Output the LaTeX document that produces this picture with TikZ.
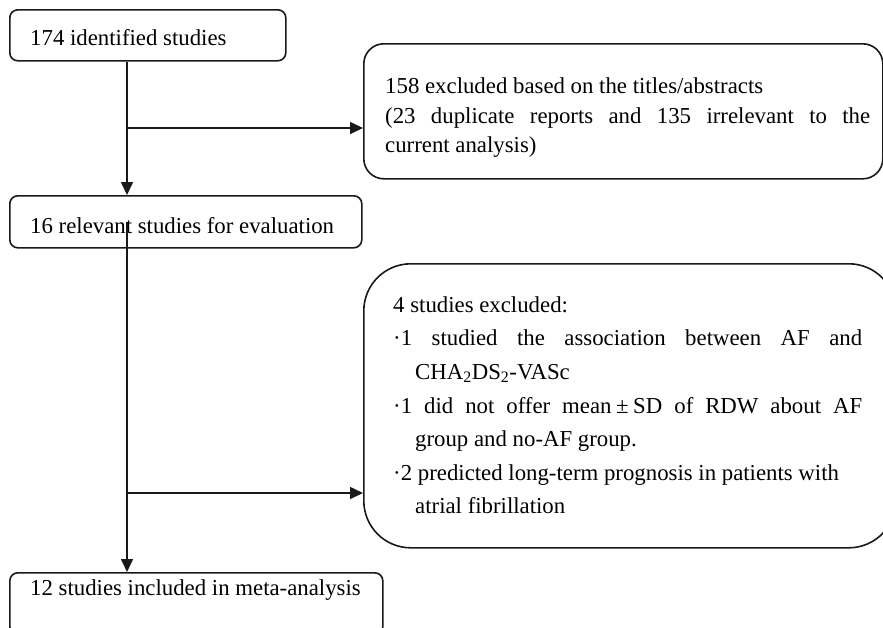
\documentclass[tikz,border=0pt]{standalone}
\usepackage{fontspec}
\setmainfont{Liberation Serif}
\usetikzlibrary{arrows.meta,calc}
\begin{document}
\begin{tikzpicture}[x=1pt,y=-1pt,
  box/.style={draw=black!90, line width=1.6pt, inner sep=0pt, anchor=north west},
  txt/.style={anchor=base west, inner sep=0pt, font=\fontsize{22.8}{27}\selectfont},
  arr/.style={draw=black!90, line width=1.6pt, -{Triangle[length=13pt,width=12pt]}}]
\clip (0,0) rectangle (883,627);
\fill[white] (0,0) rectangle (883,627);
% boxes
\node[box, rounded corners=8pt, minimum width=276pt, minimum height=51pt] (b1) at (9,9) {};
\node[box, rounded corners=8pt, minimum width=352pt, minimum height=52pt] (b2) at (9,195) {};
\node[box, rounded corners=20pt, minimum width=519pt, minimum height=135pt] (b3) at (363,43) {};
\node[box, rounded corners=47pt, minimum width=532pt, minimum height=284pt] (b4) at (363,263) {};
\node[box, rounded corners=8pt, minimum width=373pt, minimum height=62pt] (b5) at (9,572) {};
% texts
\node[txt] (t1) at (30,45) {174 identified studies};
\node[txt] (t2) at (30,233) {16 relevant studies for evaluation};
\node[txt] (t3a) at (385,93) {158 excluded based on the titles/abstracts};
\node[txt] (t3b) at (385,123) {\makebox[485pt][s]{(23 duplicate reports and 135 irrelevant to the}};
\node[txt] (t3c) at (385,152) {current analysis)};
\node[txt] (t4a) at (393,312) {4 studies excluded:};
\node[txt] (t4b) at (393,345) {\makebox[469pt][s]{·1 studied the association between AF and}};
\node[txt] (t4c) at (415,379) {CHA\textsubscript{2}DS\textsubscript{2}-VASc};
\node[txt] (t4d) at (393,413) {\makebox[469pt][s]{·1 did not offer mean\makebox[0.95em]{±}SD of RDW about AF}};
\node[txt] (t4e) at (415,446) {group and no-AF group.};
\node[txt] (t4f) at (393,480) {·2 predicted long-term prognosis in patients with};
\node[txt] (t4g) at (415,513) {atrial fibrillation};
\node[txt] (t5) at (30,595) {12 studies included in meta-analysis};
% connectors
\coordinate (s) at (127,0);
\coordinate (j1) at (127,128);
\coordinate (j2) at (127,493);
\draw[arr] (s |- b1.south) -- (s |- b2.north);
\draw[arr] (j1) -- (j1 -| b3.west);
\draw[arr] (s |- b2.center) -- (s |- b5.north);
\draw[arr] (j2) -- (j2 -| b4.west);
\end{tikzpicture}
\end{document}
